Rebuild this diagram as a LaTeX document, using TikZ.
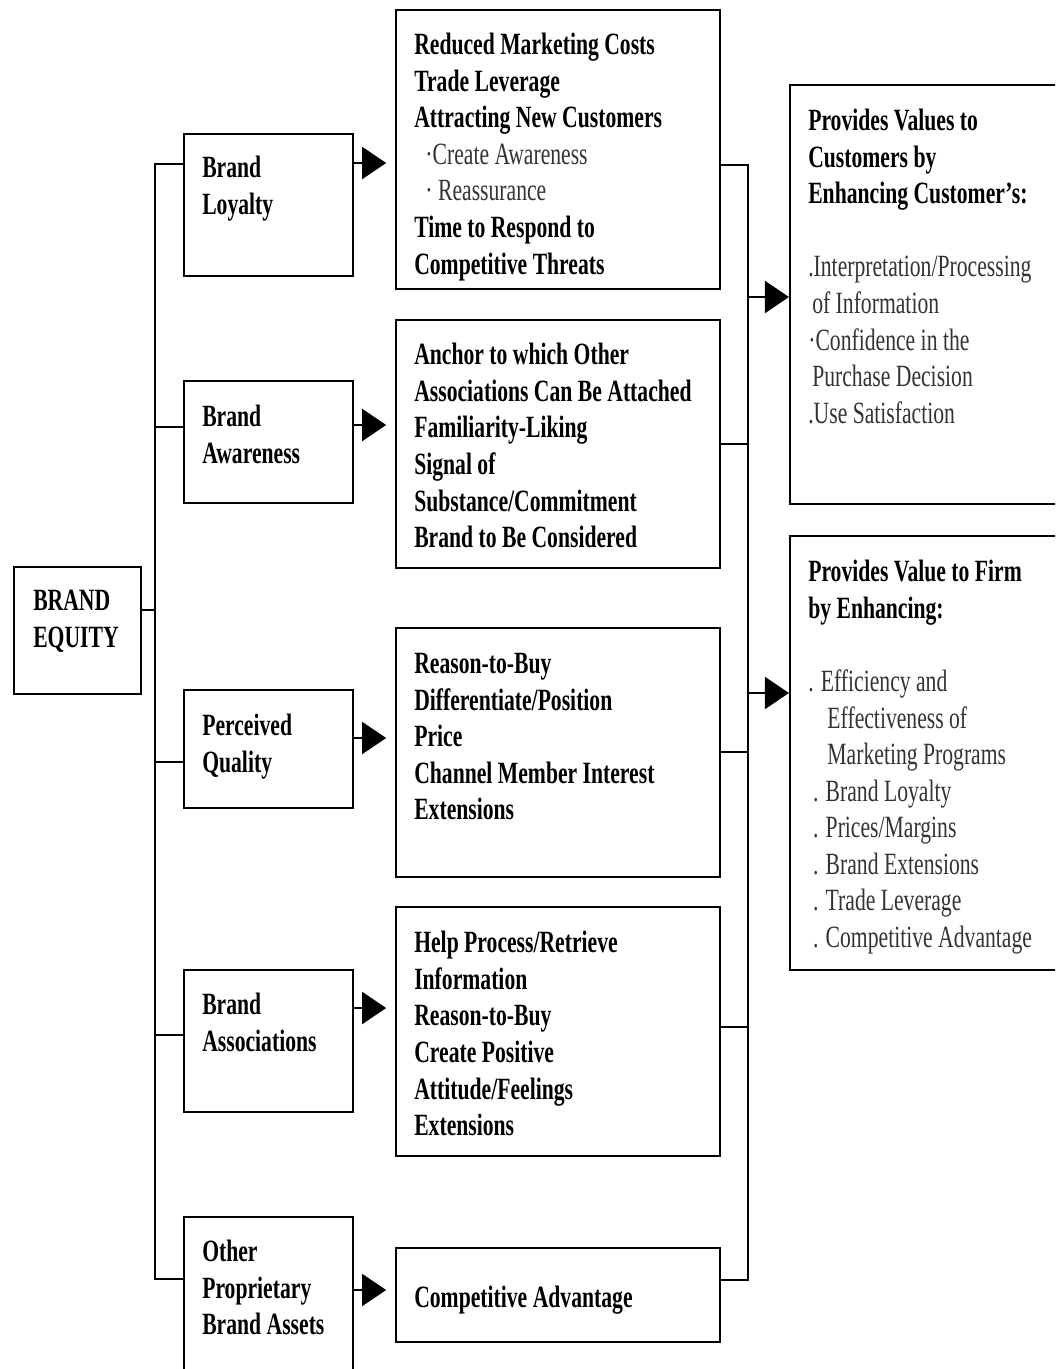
\documentclass[tikz,border=0pt]{standalone}
\usepackage{fontspec}
\setmainfont{Liberation Serif}[FakeStretch=0.7]
\usetikzlibrary{arrows.meta, fit}
\tikzstyle{box} = [rectangle, draw, line width=1.5pt, inner sep=0pt]
\tikzstyle{txt} = [anchor=north west, align=left, inner sep=0pt, font=\fontsize{22}{26}\selectfont\bfseries]
\tikzstyle{link} = [line width=1.5pt]
\tikzstyle{arrow} = [line width=1.5pt, -{Triangle[length=0.6cm, width=0.8cm]}]
\newcommand{\litem}[1]{{\mdseries\color{black!80}#1}}

\begin{document}
\begin{tikzpicture}[x=0.025cm, y=-0.025cm]
    \useasboundingbox (0,0) rectangle (1055,1369);
    \clip (0,0) rectangle (1055,1369);
    % boxes
    \node [box, fit={(14,567) (141,694)}] (equity) {};
    \node [box, fit={(184,134) (353,276)}] (loyal) {};
    \node [box, fit={(184,381) (353,503)}] (aware) {};
    \node [box, fit={(184,690) (353,808)}] (quality) {};
    \node [box, fit={(184,970) (353,1112)}] (assoc) {};
    \node [box, fit={(184,1217) (353,1385)}] (other) {};
    \node [box, fit={(396,10) (720,289)}] (ben1) {};
    \node [box, fit={(396,320) (720,568)}] (ben2) {};
    \node [box, fit={(396,628) (720,877)}] (ben3) {};
    \node [box, fit={(396,907) (720,1156)}] (ben4) {};
    \node [box, fit={(396,1248) (720,1342)}] (ben5) {};
    \node [box, fit={(790,85) (1080,504)}] (val1) {};
    \node [box, fit={(790,536) (1080,970)}] (val2) {};
    % texts
    \node [txt] at (33,590) (equity-t) {BRAND\\EQUITY};
    \node [txt] at (202,156) (loyal-t) {Brand\\Loyalty};
    \node [txt] at (202,405) (aware-t) {Brand\\Awareness};
    \node [txt] at (202,714) (quality-t) {Perceived\\Quality};
    \node [txt] at (202,993) (assoc-t) {Brand\\Associations};
    \node [txt] at (202,1240) (other-t) {Other\\Proprietary\\Brand Assets};
    \node [txt] at (414,33) (ben1-t) {Reduced Marketing Costs\\Trade Leverage\\Attracting New Customers\\
        \hspace*{0.28cm}\litem{·Create Awareness}\\\hspace*{0.28cm}\litem{· Reassurance}\\Time to Respond to\\Competitive Threats};
    \node [txt] at (414,343) (ben2-t) {Anchor to which Other\\Associations Can Be Attached\\Familiarity-Liking\\Signal of\\Substance/Commitment\\Brand to Be Considered};
    \node [txt] at (414,653) (ben3-t) {Reason-to-Buy\\Differentiate/Position\\Price\\Channel Member Interest\\Extensions};
    \node [txt] at (414,931) (ben4-t) {Help Process/Retrieve\\Information\\Reason-to-Buy\\Create Positive\\Attitude/Feelings\\Extensions};
    \node [txt] at (414,1286) (ben5-t) {Competitive Advantage};
    \node [txt] at (808,109) (val1-t) {Provides Values to\\Customers by\\Enhancing Customer's:\\[26pt]
        \litem{.Interpretation/Processing}\\\litem{\hspace*{0.1cm}of Information}\\\litem{·Confidence in the}\\
        \litem{\hspace*{0.1cm}Purchase Decision}\\\litem{.Use Satisfaction}};
    \node [txt] at (808,560) (val2-t) {Provides Value to Firm\\by Enhancing:\\[26pt]
        \litem{. Efficiency and}\\\litem{\hspace*{0.48cm}Effectiveness of}\\\litem{\hspace*{0.48cm}Marketing Programs}\\
        \litem{\hspace*{0.12cm}. Brand Loyalty}\\\litem{\hspace*{0.12cm}. Prices/Margins}\\\litem{\hspace*{0.12cm}. Brand Extensions}\\
        \litem{\hspace*{0.12cm}. Trade Leverage}\\\litem{\hspace*{0.12cm}. Competitive Advantage}};
    % left trunk
    \coordinate (j-loyal) at (155,164);
    \coordinate (j-aware) at (155,427);
    \coordinate (j-equity) at (155,610);
    \coordinate (j-quality) at (155,762);
    \coordinate (j-assoc) at (155,1035);
    \coordinate (j-other) at (155,1279);
    \draw [link] (j-loyal -| loyal.west) -- (j-loyal) -- (j-other) -- (j-other -| other.west);
    \draw [link] (j-equity -| equity.east) -- (j-equity);
    \draw [link] (j-aware) -- (j-aware -| aware.west);
    \draw [link] (j-quality) -- (j-quality -| quality.west);
    \draw [link] (j-assoc) -- (j-assoc -| assoc.west);
    % arrows to benefits
    \draw [arrow, shorten >=0.22cm] (loyal.east |- 0,163) -- (ben1.west |- 0,163);
    \draw [arrow, shorten >=0.22cm] (aware.east |- 0,425) -- (ben2.west |- 0,425);
    \draw [arrow, shorten >=0.22cm] (quality.east |- 0,738) -- (ben3.west |- 0,738);
    \draw [arrow, shorten >=0.22cm] (assoc.east |- 0,1008) -- (ben4.west |- 0,1008);
    \draw [arrow, shorten >=0.22cm] (other.east |- 0,1290) -- (ben5.west |- 0,1290);
    % right trunk
    \coordinate (r-ben1) at (748,165);
    \coordinate (r-val1) at (748,297);
    \coordinate (r-ben2) at (748,444);
    \coordinate (r-val2) at (748,693);
    \coordinate (r-ben3) at (748,752);
    \coordinate (r-ben4) at (748,1027);
    \coordinate (r-ben5) at (748,1280);
    \draw [link] (r-ben1 -| ben1.east) -- (r-ben1) -- (r-ben5) -- (r-ben5 -| ben5.east);
    \draw [link] (r-ben2 -| ben2.east) -- (r-ben2);
    \draw [link] (r-ben3 -| ben3.east) -- (r-ben3);
    \draw [link] (r-ben4 -| ben4.east) -- (r-ben4);
    \draw [arrow] (r-val1) -- (r-val1 -| val1.west);
    \draw [arrow] (r-val2) -- (r-val2 -| val2.west);
\end{tikzpicture}
\end{document}
